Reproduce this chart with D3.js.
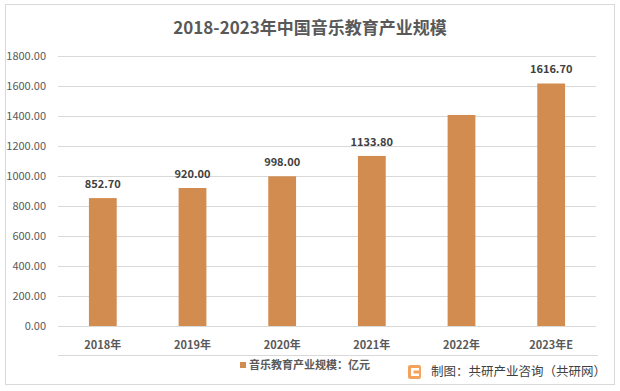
<!DOCTYPE html>
<meta charset="utf-8">
<style>
body { margin: 0; background: #fff; }
svg { font-family: "Noto Sans CJK SC", "Noto Sans", sans-serif; }
.grid line { stroke: #d9d9d9; shape-rendering: crispEdges; }
.grid path { display: none; }
.ylab { font-size: 11px; fill: #595959; }
.xlab { font-size: 11px; fill: #595959; font-weight: bold; }
.val { font-size: 11px; fill: #404040; font-weight: bold; }
</style>
<body>
<script src="https://cdn.jsdelivr.net/npm/d3@7"></script>
<script>

var years = ["2018年", "2019年", "2020年", "2021年", "2022年", "2023年E"];
var values = [852.7, 920.0, 998.0, 1133.8, 1407, 1616.7];
var labels = ["852.70", "920.00", "998.00", "1133.80", "", "1616.70"];
var yTicks = [0, 200, 400, 600, 800, 1000, 1200, 1400, 1600, 1800];

var width = 620, height = 391;
var plotLeft = 58, plotRight = 596, plotTop = 56, plotBottom = 326;

var svg = d3.select("body").append("svg")
    .attr("width", width)
    .attr("height", height);

svg.append("rect")
    .attr("x", 5.5).attr("y", 4.5)
    .attr("width", 609).attr("height", 380)
    .attr("fill", "#fff")
    .attr("stroke", "#d9d9d9");

svg.append("text")
    .attr("x", 310).attr("y", 34)
    .attr("text-anchor", "middle")
    .style("font-size", "17px")
    .style("font-weight", "bold")
    .style("fill", "#595959")
    .text("2018-2023年中国音乐教育产业规模");

var x = d3.scaleBand()
    .domain(years)
    .range([plotLeft, plotRight])
    .paddingInner(0.69)
    .paddingOuter(0.345);

var y = d3.scaleLinear()
    .domain([0, 1800])
    .range([plotBottom, plotTop]);

// gridlines
svg.append("g")
    .attr("class", "grid")
    .attr("transform", "translate(" + plotLeft + ",0)")
    .call(d3.axisRight(y).tickValues(yTicks).tickSize(plotRight - plotLeft).tickFormat(""));

svg.selectAll(".ylab")
    .data(yTicks)
  .enter().append("text")
    .attr("class", "ylab")
    .attr("x", 46)
    .attr("y", function(d) { return y(d); })
    .attr("dy", "0.35em")
    .attr("text-anchor", "end")
    .text(function(d) { return d.toFixed(2); });

svg.selectAll(".bar")
    .data(values)
  .enter().append("rect")
    .attr("class", "bar")
    .attr("x", function(d, i) { return x(years[i]); })
    .attr("y", function(d) { return y(d); })
    .attr("width", x.bandwidth())
    .attr("height", function(d) { return y(0) - y(d); })
    .attr("fill", "#d38c4f");

svg.selectAll(".val")
    .data(values)
  .enter().append("text")
    .attr("class", "val")
    .attr("x", function(d, i) { return x(years[i]) + x.bandwidth() / 2; })
    .attr("y", function(d) { return y(d) - 10; })
    .attr("text-anchor", "middle")
    .text(function(d, i) { return labels[i]; });

svg.selectAll(".xlab")
    .data(years)
  .enter().append("text")
    .attr("class", "xlab")
    .attr("x", function(d) { return x(d) + x.bandwidth() / 2; })
    .attr("y", 349)
    .attr("text-anchor", "middle")
    .text(function(d) { return d; });

svg.append("line")
    .attr("x1", plotLeft).attr("x2", plotRight + 2)
    .attr("y1", 355.5).attr("y2", 355.5)
    .attr("stroke", "#d9d9d9");

// legend
svg.append("rect")
    .attr("x", 240).attr("y", 362)
    .attr("width", 6).attr("height", 6)
    .attr("fill", "#d38c4f");

svg.append("text")
    .attr("x", 249).attr("y", 369)
    .style("font-size", "11px")
    .style("font-weight", "bold")
    .style("fill", "#595959")
    .text("音乐教育产业规模：亿元");

// source
var logo = svg.append("g").attr("transform", "translate(408,365)");
logo.append("rect").attr("width", 13).attr("height", 14).attr("rx", 2).attr("fill", "#f5a25d");
logo.append("rect").attr("x", 3).attr("y", 3).attr("width", 8).attr("height", 2.5).attr("fill", "#fff");
logo.append("rect").attr("x", 3).attr("y", 3).attr("width", 2.5).attr("height", 8).attr("fill", "#fff");
logo.append("rect").attr("x", 3).attr("y", 8.5).attr("width", 8).attr("height", 2.5).attr("fill", "#fff");

svg.append("text")
    .attr("x", 431).attr("y", 376)
    .style("font-size", "12.5px")
    .style("fill", "#404040")
    .text("制图：共研产业咨询（共研网）");

</script>
